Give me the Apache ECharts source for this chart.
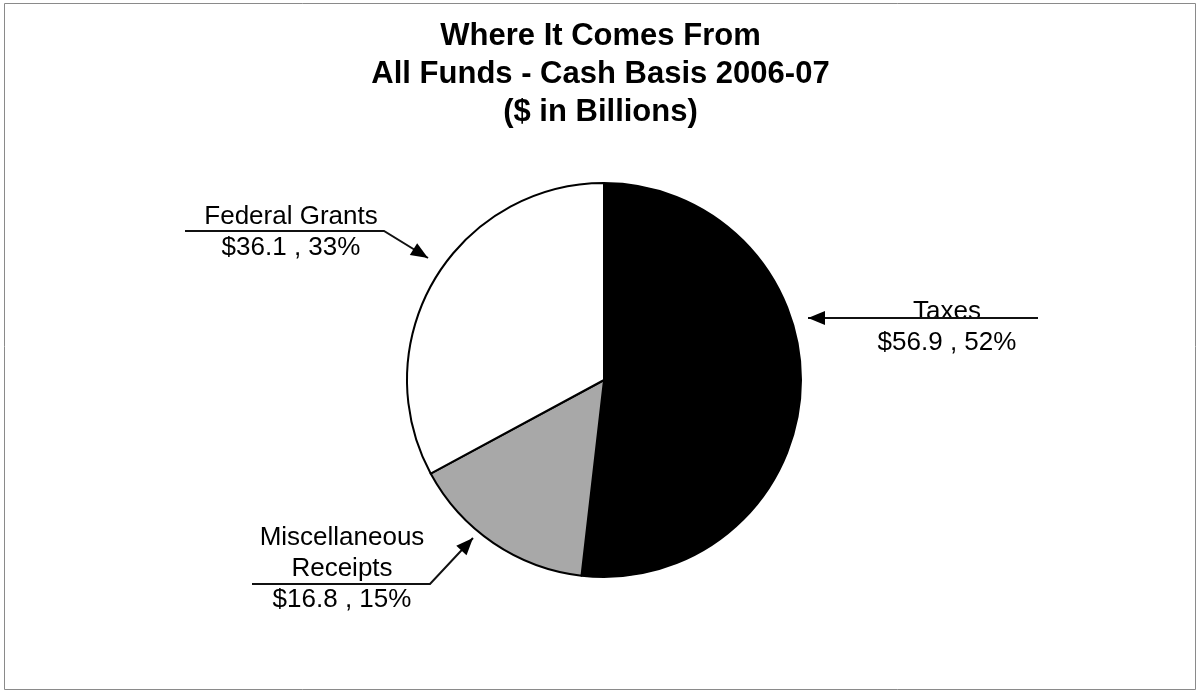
<!DOCTYPE html>
<html>
<head>
<meta charset="utf-8">
<title>Where It Comes From</title>
<script src="https://cdn.jsdelivr.net/npm/echarts@6/dist/echarts.min.js"></script>
<style>
  html, body { margin: 0; padding: 0; background: #fff; }
  #chart { width: 1201px; height: 694px; }
</style>
</head>
<body>
<div id="chart"></div>
<script>
// Revenue sources, all funds, cash basis 2006-07 ($ in billions)
const categories = ['Taxes', 'Miscellaneous\nReceipts', 'Federal Grants'];
const amounts = [56.9, 16.8, 36.1];
const sliceColors = ['#000000', '#a8a8a8', '#ffffff'];
const titleLines = ['Where It Comes From', 'All Funds - Cash Basis 2006-07', '($ in Billions)'];

// Callout placement: label centre plus leader line (last point is the arrow tip)
const callouts = [
  { label: [947, 327], line: [[1038, 318], [808, 318]] },
  { label: [342, 569], line: [[252, 584], [430, 584], [473, 538]] },
  { label: [291, 232], line: [[185, 231], [384, 231], [428, 258]] }
];

const FONT = '"Liberation Sans", Arial, sans-serif';

function arrowHead(from, to, len, half) {
  const dx = to[0] - from[0], dy = to[1] - from[1];
  const d = Math.hypot(dx, dy);
  const ux = dx / d, uy = dy / d;
  const bx = to[0] - ux * len, by = to[1] - uy * len;
  return [[to[0], to[1]], [bx - uy * half, by + ux * half], [bx + uy * half, by - ux * half]];
}

const graphics = [{
  type: 'rect',
  shape: { x: 4.5, y: 3.5, width: 1191, height: 686 },
  style: { fill: 'none', stroke: '#8a8a8a', lineWidth: 1 },
  silent: true
}];
callouts.forEach(c => {
  const pts = c.line;
  graphics.push({
    type: 'polyline',
    shape: { points: pts },
    style: { stroke: '#111', lineWidth: 2, fill: 'none' },
    z: 10
  });
  graphics.push({
    type: 'polygon',
    shape: { points: arrowHead(pts[pts.length - 2], pts[pts.length - 1], 17, 7) },
    style: { fill: '#000' },
    z: 10
  });
});

const chart = echarts.init(document.getElementById('chart'), null, { renderer: 'canvas' });
chart.setOption({
  backgroundColor: '#ffffff',
  animation: false,
  title: {
    text: titleLines.join('\n'),
    left: 'center',
    top: 12,
    textStyle: { fontFamily: FONT, fontSize: 31, fontWeight: 'bold', color: '#000', lineHeight: 38 }
  },
  graphic: graphics,
  series: [{
    type: 'pie',
    center: [604, 380],
    radius: 197,
    startAngle: 90,
    clockwise: true,
    percentPrecision: 0,
    silent: true,
    itemStyle: { borderColor: '#000', borderWidth: 2 },
    data: categories.map((name, i) => ({
      name: name,
      value: amounts[i],
      itemStyle: { color: sliceColors[i] }
    })),
    label: {
      show: true,
      formatter: p => {
        const nameLines = p.name.split('\n').map(s => '{n|' + s + '}');
        return nameLines.join('\n') + '\n{v|$' + p.value.toFixed(1) + ' , ' + p.percent + '%}';
      },
      rich: {
        n: { fontFamily: FONT, fontSize: 26, color: '#000', lineHeight: 31, align: 'center' },
        v: { fontFamily: FONT, fontSize: 26, color: '#000', lineHeight: 31, align: 'center' }
      },
      align: 'center'
    },
    labelLine: { show: false },
    labelLayout: p => ({
      x: callouts[p.dataIndex].label[0],
      y: callouts[p.dataIndex].label[1],
      align: 'center',
      verticalAlign: 'middle'
    })
  }]
});
</script>
</body>
</html>
